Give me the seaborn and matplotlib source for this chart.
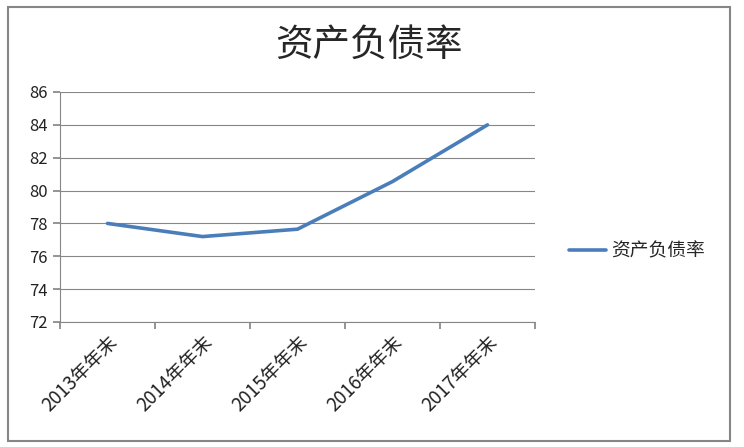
import pandas as pd
import matplotlib
matplotlib.use('Agg')
import matplotlib.pyplot as plt
import seaborn as sns
from matplotlib.patches import Rectangle

years = ['2013年年末', '2014年年末', '2015年年末', '2016年年末', '2017年年末']
ratio = [78.0, 77.2, 77.65, 80.55, 84.0]
series_name = '资产负债率'

sns.set_theme(style='white')
plt.rcParams['font.family'] = ['Noto Sans CJK SC', 'DejaVu Sans']

df = pd.DataFrame({'pos': range(len(years)), 'value': ratio, 'name': series_name})

fig = plt.figure(figsize=(7.44, 4.47), dpi=100)
ax = fig.add_axes([60 / 744, 1 - 322 / 447, 475 / 744, 230 / 447])

sns.lineplot(data=df, x='pos', y='value', hue='name', palette=['#4A7EBB'],
             linewidth=2.6, ax=ax, legend=True)

ax.set_xlim(-0.5, len(years) - 0.5)
ax.set_ylim(72, 86)
ax.set_yticks(range(72, 87, 2))
ax.yaxis.grid(True, color='#868686', linewidth=0.8)
ax.set_axisbelow(True)

# category boundaries as major ticks, labels on minor ticks at centers
ax.set_xticks([i - 0.5 for i in range(len(years) + 1)])
ax.set_xticklabels([])
ax.set_xticks(range(len(years)), minor=True)
ax.set_xticklabels(years, minor=True, rotation=45, ha='right',
                   rotation_mode='anchor', fontsize=13.5, color='#222222')
ax.tick_params(axis='x', which='minor', length=0, pad=7)
ax.tick_params(axis='x', which='major', length=5, color='#868686', direction='out', bottom=True)
ax.tick_params(axis='y', length=5, color='#868686', direction='out', left=True,
               labelsize=12, labelcolor='#222222', pad=4)

for s in ['top', 'right']:
    ax.spines[s].set_visible(False)
for s in ['left', 'bottom']:
    ax.spines[s].set_color('#868686')
    ax.spines[s].set_linewidth(0.8)

ax.set_xlabel('')
ax.set_ylabel('')

handles, labels = ax.get_legend_handles_labels()
ax.legend(handles, labels, loc='center left', bbox_to_anchor=(1.035, 0.31),
          frameon=False, fontsize=13.5, handlelength=2.0, handletextpad=0.3)

fig.suptitle(series_name, x=369 / 744, y=1 - 45 / 447, va='center', fontsize=27)

fig.patches.append(Rectangle((8 / 744, 6 / 447), 722 / 744, 434 / 447,
                             transform=fig.transFigure, fill=False,
                             edgecolor='#868686', linewidth=1.5))

fig.savefig('out.png', dpi=100)
